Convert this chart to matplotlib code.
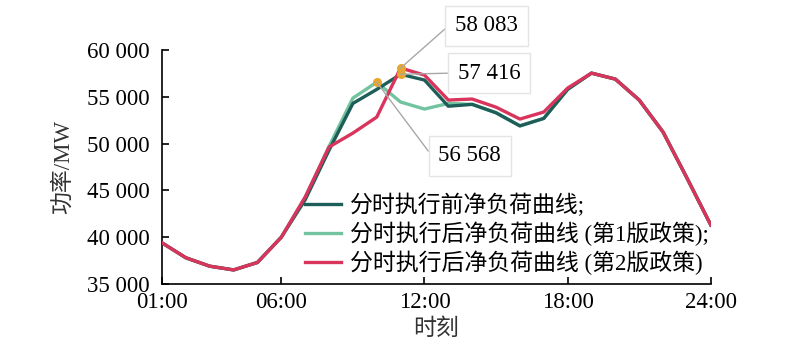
import matplotlib
matplotlib.use('Agg')
import numpy as np
from matplotlib import pyplot as plt
from matplotlib.ticker import FuncFormatter

plt.rcParams['font.family'] = ['Liberation Serif', 'Noto Sans CJK SC']
plt.rcParams['axes.unicode_minus'] = False

hours = list(range(1, 25))
before = [39400, 37800, 36900, 36500, 37300, 40000, 44000, 49300, 54300, 55800,
          57416, 56800, 54000, 54200, 53300, 51900, 52700, 55800, 57540, 56900,
          54660, 51240, 46330, 41300]
policy1 = [39400, 37800, 36900, 36500, 37300, 40000, 44200, 49700, 54870, 56568,
           54450, 53700, 54300, 54200, 53300, 51900, 52700, 55800, 57540, 56900,
           54660, 51240, 46330, 41300]
policy2 = [39400, 37800, 36900, 36500, 37300, 40000, 44300, 49640, 51130, 52840,
           58083, 57330, 54660, 54770, 53900, 52630, 53380, 55940, 57540, 56900,
           54660, 51240, 46330, 41300]

labels = ['分时执行前净负荷曲线;',
          '分时执行后净负荷曲线 (第1版政策);',
          '分时执行后净负荷曲线 (第2版政策)']
colors = ['#1E5E58', '#72C39F', '#D8345C']

xticks = [1, 6, 12, 18, 24]
xticklabels = ['01:00', '06:00', '12:00', '18:00', '24:00']

fig = plt.figure(figsize=(8, 3.48), dpi=100)
ax = fig.add_axes([0.2025, 0.184, 0.686, 0.672])

l1, = ax.plot(hours, policy1, color=colors[1], lw=2.4, label=labels[1], zorder=2)
l0, = ax.plot(hours, before, color=colors[0], lw=2.4, label=labels[0], zorder=3)
l2, = ax.plot(hours, policy2, color=colors[2], lw=2.4, label=labels[2], zorder=4)

# highlighted points and their boxes
pts = [(10, policy1[9]), (11, before[10]), (11, policy2[10])]
txt_pos = [(13.9, 48700), (14.7, 57540), (14.6, 62600)]
for (px, py), (tx, ty) in zip(pts, txt_pos):
    ax.plot(px, py, 'o', color='#E8A530', ms=5.5, zorder=5, clip_on=False)
    ax.annotate(f'{py:,.0f}'.replace(',', ' '), xy=(px, py), xytext=(tx, ty),
                ha='center', va='center', fontsize=16.5, annotation_clip=False,
                bbox=dict(boxstyle='square,pad=0.42', fc='white', ec='#E4E4E4', lw=1),
                arrowprops=dict(arrowstyle='-', color='#A8A8A8', lw=1,
                                shrinkA=0, shrinkB=0,
                                connectionstyle='arc,angleA=180,angleB=0,armA=38,armB=0,rad=0'),
                zorder=6)

ax.set_xlim(1, 24)
ax.set_ylim(35000, 60000)
ax.set_xticks(xticks)
ax.set_xticklabels(xticklabels)
ax.set_yticks(range(35000, 60001, 5000))
ax.yaxis.set_major_formatter(FuncFormatter(lambda v, p: f'{v:,.0f}'.replace(',', ' ')))
ax.tick_params(direction='in', length=5, width=1.2, labelsize=16.5, colors='black')
ax.tick_params(axis='y', pad=9)
ax.tick_params(axis='x', pad=6)
for s in ['top', 'right']:
    ax.spines[s].set_visible(False)
for s in ['left', 'bottom']:
    ax.spines[s].set_linewidth(1.2)

ax.set_ylabel('功率/MW', fontsize=16.5, color='#333333', labelpad=9)
ax.set_xlabel('时刻', fontsize=16.5, color='#333333', labelpad=4)

ax.legend(handles=[l0, l1, l2], loc='lower left', bbox_to_anchor=(0.243, 0.0),
          frameon=False, fontsize=16.5, handlelength=1.6, handletextpad=0.4,
          labelspacing=0.2, borderaxespad=0)

fig.savefig('out.png', dpi=100)
